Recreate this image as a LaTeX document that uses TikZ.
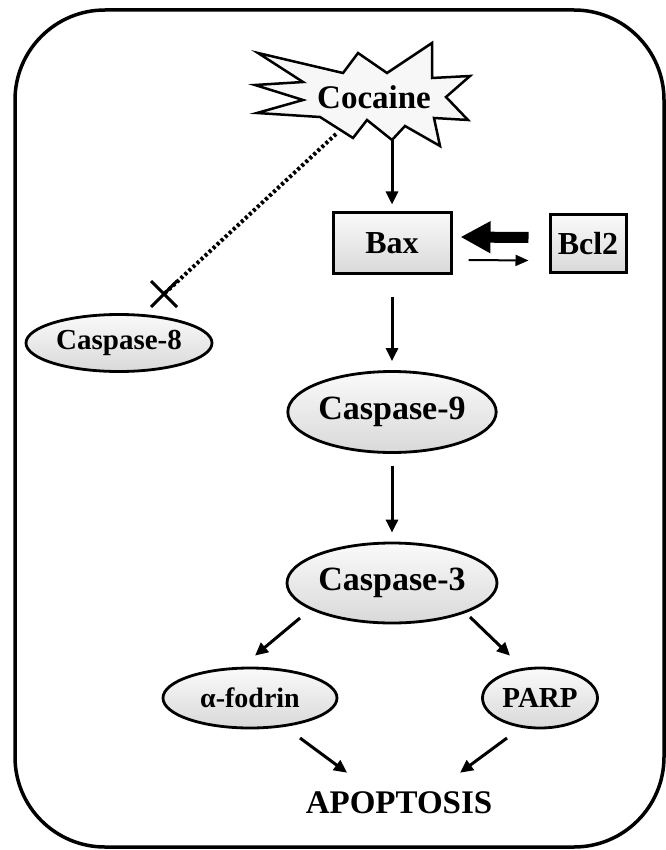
\documentclass[tikz,border=0pt]{standalone}
\usepackage{fontspec}
\setmainfont{Liberation Serif}
\usetikzlibrary{arrows.meta,shapes.geometric,calc}
\begin{document}
\begin{tikzpicture}[x=1pt,y=-1pt,
  box/.style={draw,line width=3pt,top color=gray!4,bottom color=gray!30,minimum width=118pt,minimum height=60pt,inner sep=0pt,font=\fontsize{32}{36}\selectfont\bfseries},
  oval/.style={ellipse,draw,line width=2.8pt,top color=gray!4,bottom color=gray!30,inner sep=0pt},
  big/.style={font=\fontsize{34}{36}\selectfont\bfseries},
  small/.style={font=\fontsize{29}{30}\selectfont\bfseries},
  arr/.style={line width=3pt,-{Triangle[length=13pt,width=12pt]}},
  dotline/.style={line width=4pt,dash pattern=on 3pt off 2.5pt},
]
\useasboundingbox (0,0) rectangle (665,850);
% frame
\draw[line width=3.5pt,rounded corners=90pt] (15,10) rectangle (664,847);
% starburst
\draw[line width=2.5pt,fill=gray!6,line join=miter]
  (258,53) -- (343,73) -- (358,53) -- (387,73) -- (432,43) -- (432,78)
  -- (470,76) -- (446,97) -- (468,120) -- (434,118) -- (440,146)
  -- (405,126) -- (392,140) -- (367,120) -- (353,138) -- (320,117)
  -- (257,113) -- (303,100) -- (255,85) -- (303,82) -- cycle;
\node[font=\fontsize{33}{36}\selectfont\bfseries,minimum height=86pt,inner sep=0pt] (cocaine) at (374,97) {Cocaine};
% nodes
\node[box] (bax) at (392,243) {Bax};
\node[box,minimum width=76pt,minimum height=57pt] (bcl2) at (588,243.5) {Bcl2};
\node[oval,small,minimum width=186pt,minimum height=57pt] (c8) at (119,343) {Caspase-8};
\node[oval,big,minimum width=207pt,minimum height=81pt] (c9) at (392,412) {Caspase-9};
\node[oval,big,minimum width=210pt,minimum height=80pt] (c3) at (392,583) {Caspase-3};
\node[oval,font=\fontsize{28}{30}\selectfont\bfseries,minimum width=174pt,minimum height=60pt] (fod) at (250,698) {α-fodrin};
\node[oval,small,minimum width=115pt,minimum height=60pt] (parp) at (540,698) {PARP};
\node[font=\fontsize{33}{36}\selectfont\bfseries,inner sep=0pt] (apop) at (399,803) {APOPTOSIS};
% inhibition to caspase-8
\coordinate (cocx) at (336,134);
\coordinate (xm) at (164,294);
\draw[dotline] (cocx) -- (xm);
\draw[line width=3pt] ($(xm)+(-13,-13)$) -- ($(xm)+(13,13)$);
\draw[line width=3pt] ($(xm)+(-13,13)$) -- ($(xm)+(13,-13)$);
% arrows
\draw[arr,shorten >=7pt] (cocaine.south -| bax.north) -- (bax.north);
\draw[arr,shorten <=22pt,shorten >=9pt] (bax.south) -- (c9.north);
\draw[arr,shorten <=12pt,shorten >=9pt] (c9.south) -- (c3.north);
\draw[arr] ($(c3)+(-92,35)$) -- ($(fod.north)+(5,-11)$);
\draw[arr] ($(c3)+(78,34)$) -- ($(parp.north)+(-30,-11)$);
\draw[arr] ($(fod)+(50,40)$) -- ($(apop.north)+(-52,-19)$);
\draw[arr] ($(parp)+(-33,40)$) -- ($(apop.north)+(61,-19)$);
\draw[line width=11pt,-{Triangle[length=30pt,width=30pt]}] ($(bcl2.west)+(-20,-6)$) -- ($(bax.east)+(8,-6)$);
\draw[line width=2pt,-{Triangle[length=13pt,width=11pt]}] ($(bax.east)+(16,17)$) -- ($(bcl2.west)+(-20,17)$);
\end{tikzpicture}
\end{document}
